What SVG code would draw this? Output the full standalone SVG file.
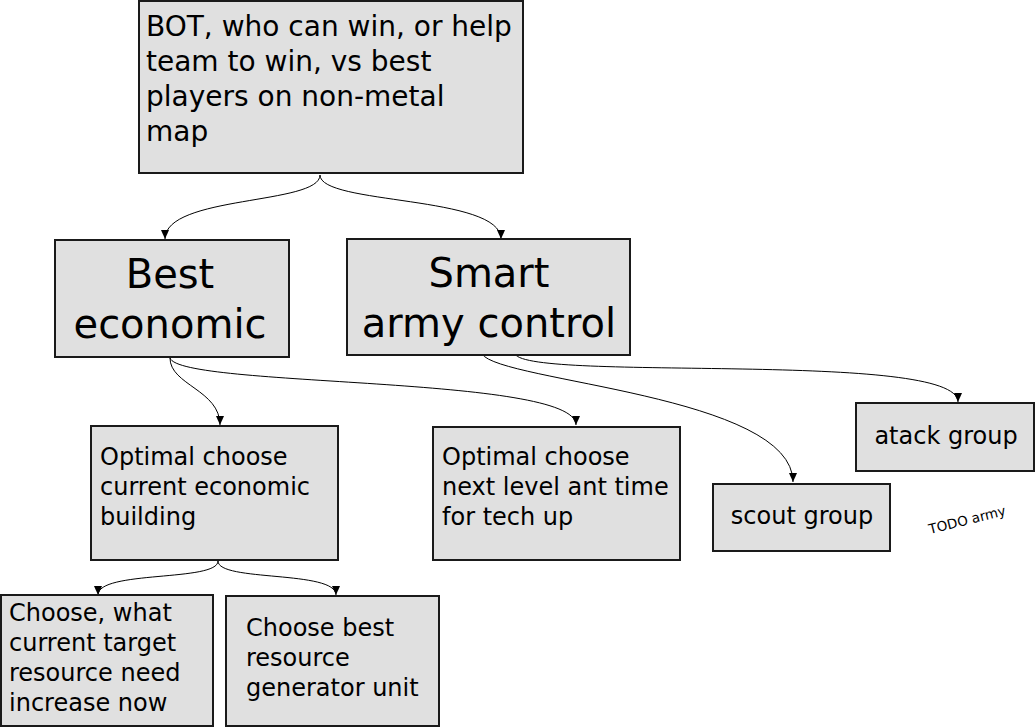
<svg xmlns="http://www.w3.org/2000/svg" width="1036" height="728" viewBox="0 0 1036 728">
<style>
.box{fill:#e0e0e0;stroke:#1a1a1a;stroke-width:2}
text{font-family:"DejaVu Sans",sans-serif;fill:#000}
.t28{font-size:28px}
.t40{font-size:40px;text-anchor:middle}
.t24{font-size:24px}
.c24{font-size:24px;text-anchor:middle}
.conn{fill:none;stroke:#000;stroke-width:1}
</style>
<defs>
<marker id="arr" markerUnits="userSpaceOnUse" markerWidth="10" markerHeight="10" refX="9" refY="5" orient="auto">
<path d="M0,1 L9,5 L0,9 Z" fill="#000"/>
</marker>
</defs>
<rect width="1036" height="728" fill="#fff"/>
<g id="connectors" class="conn" marker-end="url(#arr)">
<path d="M320,175 C320,205 165,195 165,239"/>
<path d="M320,175 C320,205 501,195 501,239"/>
<path d="M170,358 C170,385 220,390 220,425"/>
<path d="M170,358 C180,388 576,375 576,425"/>
<path d="M482,354 C500,382 793,395 793,482"/>
<path d="M515,354 C530,382 958,350 958,402"/>
<path d="M218,561 C218,582 98,570 98,595"/>
<path d="M218,561 C218,582 336,570 336,595"/>
</g>
<g id="goal">
<rect class="box" x="139" y="1" width="384" height="172"/>
<text class="t28" x="146"><tspan x="146" y="36">BOT, who can win, or help</tspan><tspan x="146" y="71">team to win, vs best</tspan><tspan x="146" y="106">players on non-metal</tspan><tspan x="146" y="141">map</tspan></text>
</g>
<g id="economic">
<rect class="box" x="55" y="240" width="234" height="117"/>
<text class="t40"><tspan x="170" y="288">Best</tspan><tspan x="170" y="338">economic</tspan></text>
</g>
<g id="army">
<rect class="box" x="347" y="239" width="283" height="116"/>
<text class="t40"><tspan x="489" y="287">Smart</tspan><tspan x="489" y="337">army control</tspan></text>
</g>
<g id="building">
<rect class="box" x="91" y="426" width="247" height="134"/>
<text class="t24"><tspan x="100" y="465">Optimal choose</tspan><tspan x="100" y="495">current economic</tspan><tspan x="100" y="525">building</tspan></text>
</g>
<g id="techup">
<rect class="box" x="433" y="427" width="247" height="133"/>
<text class="t24"><tspan x="442" y="465">Optimal choose</tspan><tspan x="442" y="495">next level ant time</tspan><tspan x="442" y="525">for tech up</tspan></text>
</g>
<g id="scout">
<rect class="box" x="713" y="484" width="177" height="67"/>
<text class="c24" x="802" y="524">scout group</text>
</g>
<g id="atack">
<rect class="box" x="856" y="403" width="178" height="68"/>
<text class="c24" x="946" y="444">atack group</text>
</g>
<g id="todo">
<text x="930" y="534" font-size="13.5" transform="rotate(-14 930 534)">TODO army</text>
</g>
<g id="target">
<rect class="box" x="1" y="595" width="212" height="131"/>
<text class="t24"><tspan x="9" y="621">Choose, what</tspan><tspan x="9" y="651">current target</tspan><tspan x="9" y="681">resource need</tspan><tspan x="9" y="711">increase now</tspan></text>
</g>
<g id="generator">
<rect class="box" x="226" y="596" width="213" height="130"/>
<text class="t24"><tspan x="246" y="636">Choose best</tspan><tspan x="246" y="666">resource</tspan><tspan x="246" y="696">generator unit</tspan></text>
</g>
</svg>
